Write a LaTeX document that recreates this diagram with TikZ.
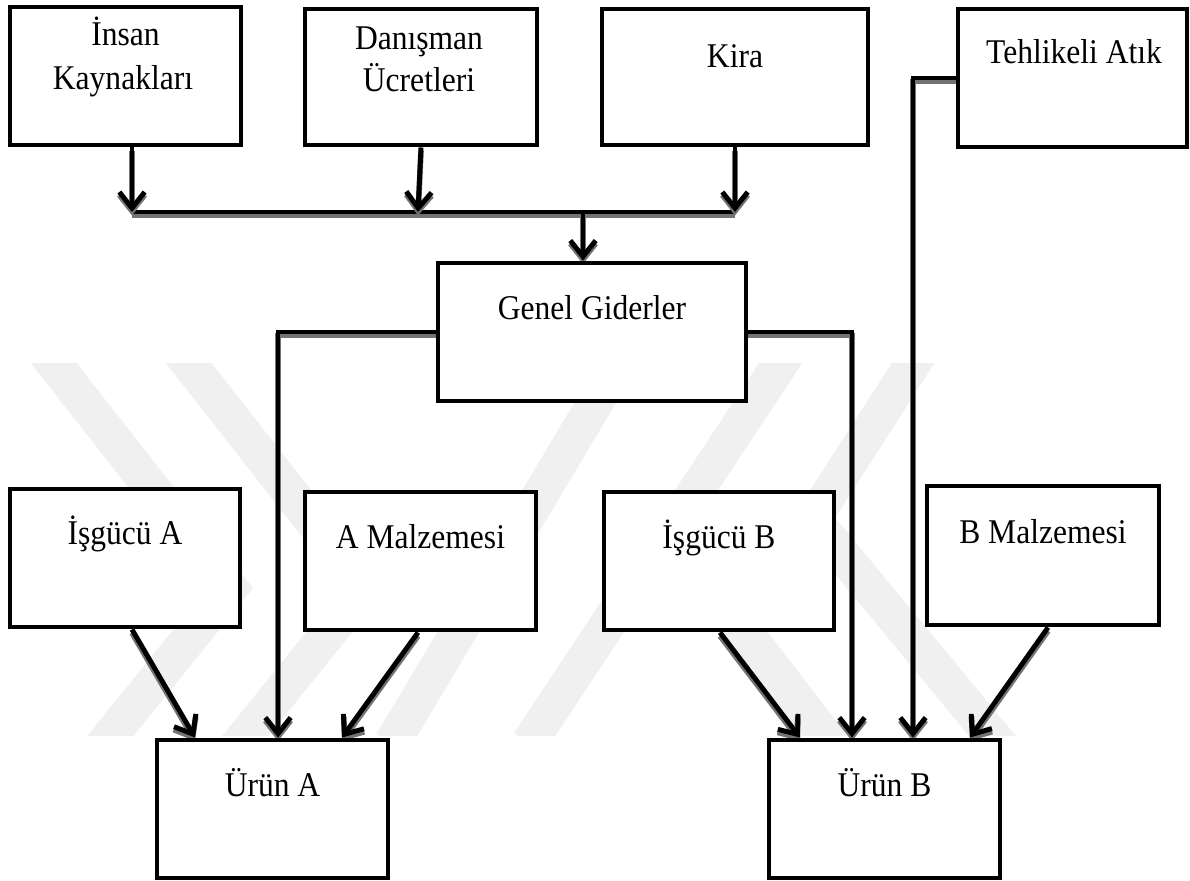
\documentclass[tikz,border=0pt]{standalone}
\usepackage{fontspec}
\setmainfont{Liberation Serif}[FakeStretch=0.91]
\usetikzlibrary{arrows.meta}
\pgfdeclarelayer{wm}
\pgfdeclarelayer{links}
\pgfsetlayers{wm,links,main}

\begin{document}
\begin{tikzpicture}[x=0.75pt,y=-0.75pt,
  box/.style={draw, line width=3.7pt, fill=white, inner sep=0pt, rectangle},
  lbl/.style={font=\fontsize{26}{30}\selectfont, anchor=base, inner sep=0pt},
  wire/.style={line width=3.7pt, line join=miter,
    preaction={draw=black!55, line width=4.2pt, transform canvas={yshift=-2.6pt}}},
  arr/.style={wire, -{Straight Barb[length=12pt,width=19pt]}},
  band/.style={draw=black!6, line width=27pt, line join=miter, miter limit=4}
]
\useasboundingbox (0,0) rectangle (1190,881);

% background emblem bands
\begin{pgfonlayer}{wm}
\begin{scope}
\clip (0,363) rectangle (1190,735);
\draw[band] (38,343) -- (230,588) -- (99,750);
\draw[band] (173,343) -- (365,588) -- (234,750);
\draw[band] (631,343) -- (392,743);
\draw[band] (794,343) -- (529,743);
\draw[band] (926,343) -- (813,519) -- (1004,750);
\draw[band] (669,533) -- (838,753);
\end{scope}
\end{pgfonlayer}

% cost boxes
\node[box, minimum width=173.25pt, minimum height=103.5pt] (ins)  at (125.5,76) {};
\node[box, minimum width=174pt,    minimum height=102pt]   (dan)  at (421,77) {};
\node[box, minimum width=199.5pt,  minimum height=102pt]   (kira) at (735,77) {};
\node[box, minimum width=171.75pt, minimum height=103.5pt] (teh)  at (1072.5,78) {};
\node[box, minimum width=231pt,    minimum height=103.5pt] (gen)  at (592,332) {};
\node[box, minimum width=172.5pt,  minimum height=103.5pt] (isA)  at (125,558) {};
\node[box, minimum width=173.25pt, minimum height=103.5pt] (amz)  at (420.5,561) {};
\node[box, minimum width=172.5pt,  minimum height=103.5pt] (isB)  at (719,561) {};
\node[box, minimum width=174pt,    minimum height=104.25pt] (bmz) at (1043,555.5) {};
\node[box, minimum width=173.25pt, minimum height=103.5pt] (urA)  at (272.5,809) {};
\node[box, minimum width=173.25pt, minimum height=103.5pt] (urB)  at (884.5,809) {};

% labels
\node[lbl] (ins-a)  at (125.5,46) {İnsan};
\node[lbl] (ins-b)  at (123,90) {Kaynakları};
\node[lbl] (dan-a)  at (419,50) {Danışman};
\node[lbl] (dan-b)  at (419,92) {Ücretleri};
\node[lbl] (kira-a) at (735,68) {Kira};
\node[lbl] (teh-a)  at (1074,64) {Tehlikeli Atık};
\node[lbl] (gen-a)  at (592,319) {Genel Giderler};
\node[lbl] (isA-a)  at (125,544) {İşgücü A};
\node[lbl] (amz-a)  at (420.5,548) {A Malzemesi};
\node[lbl] (isB-a)  at (719,548) {İşgücü B};
\node[lbl] (bmz-a)  at (1043,543) {B Malzemesi};
\node[lbl] (urA-a)  at (272.5,796) {Ürün A};
\node[lbl] (urB-a)  at (884.5,796) {Ürün B};

% routing points
\coordinate (busL) at (132,212);
\coordinate (busM) at (418,212);
\coordinate (busG) at (583,212);
\coordinate (busR) at (735,212);
\coordinate (xGA) at (278,0);
\coordinate (xGB) at (852,0);
\coordinate (xT)  at (913,0);
\coordinate (sA) at (132,0);  \coordinate (eA) at (195,0);
\coordinate (sM) at (418,0);  \coordinate (eM) at (342,0);
\coordinate (sB) at (720,0);  \coordinate (eB) at (800,0);
\coordinate (sN) at (1048,0); \coordinate (eN) at (970,0);

\begin{pgfonlayer}{links}
\draw[wire] (busL) -- (busR);
\draw[arr] (ins.south -| busL) -- (busL);
\draw[arr] (dan.south) -- (busM);
\draw[arr] (kira.south -| busR) -- (busR);
\draw[arr] (busG) -- (gen.north -| busG);
\draw[arr] (gen.west) -| (urA.north -| xGA);
\draw[arr] (gen.east) -| (urB.north -| xGB);
\draw[arr] (teh.west) -| (urB.north -| xT);
\draw[arr] (isA.south -| sA) -- (urA.north -| eA);
\draw[arr] (amz.south -| sM) -- (urA.north -| eM);
\draw[arr] (isB.south -| sB) -- (urB.north -| eB);
\draw[arr] (bmz.south -| sN) -- (urB.north -| eN);
\end{pgfonlayer}
\end{tikzpicture}
\end{document}
